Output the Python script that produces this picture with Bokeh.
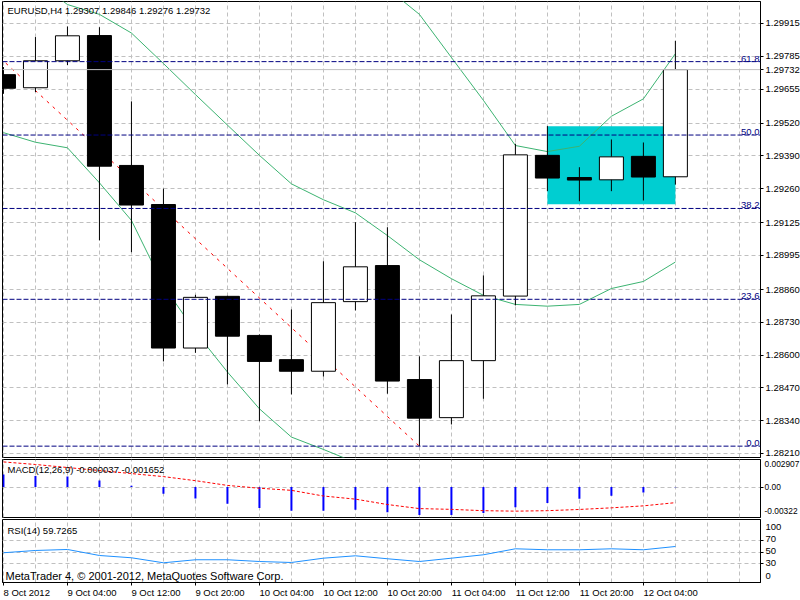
import math
from bokeh.plotting import figure
from bokeh.layouts import column
from bokeh.models import Range1d, FixedTicker, Grid, Label, Span, ColumnDataSource
from bokeh.embed import file_html
from bokeh.resources import INLINE

NaN = float("nan")

# ---------------- data ----------------
candle_idx = list(range(22))
x_tick_idx = [0, 2, 4, 6, 8, 10, 12, 14, 16, 18, 20]
x_tick_labels = ["8 Oct 2012", "9 Oct 04:00", "9 Oct 12:00", "9 Oct 20:00", "10 Oct 04:00",
                 "10 Oct 12:00", "10 Oct 20:00", "11 Oct 04:00", "11 Oct 12:00",
                 "11 Oct 20:00", "12 Oct 04:00"]

opens = [1.29712, 1.29660, 1.29767, 1.29867, 1.29352, 1.29197, 1.28628, 1.28833, 1.28678, 1.28582, 1.28536,
         1.28812, 1.28955, 1.28503, 1.28352, 1.28578, 1.28834, 1.29392, 1.29304, 1.29295, 1.29388, 1.29307]
highs = [1.29742, 1.29861, 1.29903, 1.29900, 1.29606, 1.29260, 1.28839, 1.28835, 1.28682, 1.28781, 1.28972,
         1.29127, 1.29107, 1.28595, 1.28761, 1.28916, 1.29438, 1.29508, 1.29345, 1.29455, 1.29443, 1.29846]
lows = [1.29636, 1.29643, 1.29750, 1.29055, 1.29008, 1.28575, 1.28609, 1.28484, 1.28338, 1.28444, 1.28515,
        1.28777, 1.28447, 1.28239, 1.28325, 1.28427, 1.28797, 1.29250, 1.29210, 1.29250, 1.29213, 1.29276]
closes = [1.29658, 1.29767, 1.29866, 1.29349, 1.29195, 1.28628, 1.28829, 1.28675, 1.28575, 1.28536, 1.28808,
          1.28950, 1.28497, 1.28350, 1.28578, 1.28835, 1.29394, 1.29302, 1.29294, 1.29386, 1.29306, 1.29732]

bb_upper = [NaN] * 11 + [1.30185, 1.30054, 1.29951, 1.29780, 1.29610, 1.29431, 1.29407, 1.29428,
                         1.29547, 1.29616, 1.29795]
bb_middle = [1.30185, 1.30085, 1.29990, 1.29951, 1.29877, 1.29756, 1.29633, 1.29512, 1.29392, 1.29279,
             1.29216, 1.29164, 1.29074, 1.28978, 1.28903, 1.28837, 1.28801, 1.28794, 1.28801, 1.28864,
             1.28892, 1.28969]
bb_lower = [1.29482, 1.29444, 1.29422, 1.29283, 1.29134, 1.28876, 1.28692, 1.28533, 1.28387, 1.28275,
            1.28226, 1.28174] + [NaN] * 10

price_ticks = [1.28210, 1.28340, 1.28470, 1.28600, 1.28730, 1.28860, 1.28995, 1.29125, 1.29260,
               1.29390, 1.29520, 1.29655, 1.29785, 1.29915]
last_price = 1.29732
ohlc_title = "EURUSD,H4  1.29307 1.29846 1.29276 1.29732"

fib_low, fib_high = 1.28239, 1.30706
fib_start_idx, fib_end_idx = -8, 13
fib_levels = [0.0, 23.6, 38.2, 50.0, 61.8, 100.0]
fib_labels = ["0.0", "23.6", "38.2", "50.0", "61.8", "100.0"]

rect_left, rect_right = 17, 21
rect_top, rect_bottom = 1.29507, 1.29198

macd_main = [0.00131, 0.00117, 0.00110, 0.00070, 0.00014, -0.00072, -0.00122, -0.00178, -0.00221,
             -0.00250, -0.00250, -0.00239, -0.00267, -0.00296, -0.00296, -0.00274, -0.00213, -0.00168,
             -0.00125, -0.00093, -0.00058, -0.000037]
macd_signal = [0.00265, 0.00238, 0.00206, 0.00174, 0.00142, 0.00110, 0.00067, 0.00017, -0.00013, -0.00035,
               -0.00095, -0.00128, -0.00185, -0.00228, -0.00236, -0.00250, -0.00255, -0.00250, -0.00237,
               -0.00220, -0.00199, -0.001652]
macd_title = "MACD(12,26,9) -0.000037 -0.001652"
macd_label_pos = [0.002405, 0.0, -0.00258]
macd_tick_labels = ["0.002907", "0.00", "-0.00322"]

rsi = [49.0, 52.9, 54.6, 44.3, 40.4, 31.8, 37.0, 37.0, 34.0, 32.3, 39.7, 43.8, 38.7, 34.0, 39.7, 45.5,
       55.8, 54.1, 54.1, 55.8, 54.1, 59.73]
rsi_title = "RSI(14) 59.7265"
rsi_label_pos = [93.0, 72.5, 51.5, 31.0, 10.0]
rsi_tick_labels = ["100", "70", "50", "30", "0"]
rsi_levels = [30, 50, 70]
copyright_text = "MetaTrader 4, \u00a9 2001-2012, MetaQuotes Software Corp."

# ---------------- style ----------------
FONT = "Liberation Sans"
FS_PX = 9.5
FS = f"{FS_PX}px"
GRID = "#c0c0c0"
GREEN = "#3cb371"
FRAME_W = 758
X0, X1 = -0.03, 23.66
PX = FRAME_W / (X1 - X0)  # pixels per candle step

# Arial-metric character widths (em) used to left-align the time labels at their ticks
CHAR_EM = {" ": 0.278, ":": 0.278, "O": 0.778, "c": 0.5, "t": 0.278}


def text_em(s):
    return sum(CHAR_EM.get(ch, 0.556) for ch in s)


x_range = Range1d(X0, X1)


def style_axis(ax, size=FS):
    ax.axis_line_color = "black"
    ax.major_tick_line_color = "black"
    ax.minor_tick_line_color = "black"
    ax.major_tick_out = 3
    ax.major_tick_in = 0
    ax.minor_tick_out = 3
    ax.minor_tick_in = 0
    ax.major_label_text_font = FONT
    ax.major_label_text_font_size = size
    ax.major_label_text_color = "black"
    ax.major_label_standoff = 2


def make_fig(frame_h, y_rng, top, bottom, x_axis):
    f = figure(frame_width=FRAME_W, frame_height=frame_h, x_range=x_range, y_range=y_rng,
               output_backend="svg", toolbar_location=None, title=None,
               x_axis_location="below" if x_axis else None, y_axis_location="right")
    f.min_border = 0
    f.min_border_left = 2
    f.min_border_right = 40
    f.min_border_top = top
    f.min_border_bottom = bottom
    f.xgrid.visible = False
    f.ygrid.visible = False
    f.outline_line_color = "black"
    f.outline_line_alpha = 1.0
    f.outline_line_width = 1
    f.background_fill_color = "white"
    f.border_fill_color = "white"
    f.add_layout(Grid(dimension=0, ticker=FixedTicker(ticks=list(range(0, 24))),
                      grid_line_color=GRID, grid_line_dash="4 3"))
    for ax in f.yaxis:
        style_axis(ax)
    return f


# ---------------- main price panel ----------------
p1 = make_fig(456, Range1d(1.28194, 1.30002), 1, 2, False)
p1.add_layout(Grid(dimension=1, ticker=FixedTicker(ticks=price_ticks),
                   grid_line_color=GRID, grid_line_dash="4 3"))
ya = p1.yaxis[0]
axis_prices = price_ticks + [last_price]
ya.ticker = FixedTicker(ticks=axis_prices)
ya.major_label_overrides = {t: f"{t:.5f}" for t in axis_prices}

p1.quad(left=[rect_left], right=[rect_right], top=[rect_top], bottom=[rect_bottom],
        fill_color="#00ced1", line_color=None)

p1.add_layout(Span(location=last_price, dimension="width", line_color="#c0c0c0", line_width=1))

p1.line(candle_idx, bb_upper, line_color=GREEN, line_width=1)
p1.line(candle_idx, bb_middle, line_color=GREEN, line_width=1)
p1.line(candle_idx, bb_lower, line_color=GREEN, line_width=1)

p1.line([fib_start_idx, fib_end_idx], [fib_high, fib_low], line_color="red", line_width=1,
        line_dash="3 5")

body_top = [max(o, c) for o, c in zip(opens, closes)]
body_bot = [min(o, c) for o, c in zip(opens, closes)]
body_fill = ["white" if c >= o else "black" for o, c in zip(opens, closes)]
src = ColumnDataSource(dict(x=candle_idx, h=highs, l=lows, top=body_top, bot=body_bot, fill=body_fill))
p1.segment(x0="x", y0="l", x1="x", y1="h", source=src, line_color="black", line_width=1)
p1.vbar(x="x", width=0.75, top="top", bottom="bot", fill_color="fill", line_color="black",
        line_width=1, source=src)

for lvl, lab in zip(fib_levels, fib_labels):
    price = fib_low + (fib_high - fib_low) * lvl / 100.0
    p1.add_layout(Span(location=price, dimension="width", line_color="#000080", line_width=1,
                       line_dash="5 2"))
    if price < 1.29990:
        p1.add_layout(Label(x=X1 - 1.0 / PX, y=price, text=lab, text_align="right", text_baseline="bottom",
                            text_font=FONT, text_font_size=FS, text_color="#000080"))

p1.add_layout(Label(x=X0 + 5.0 / PX, y=1.29966, text=ohlc_title, text_baseline="middle",
                    text_font=FONT, text_font_size=FS, text_color="black"))

# ---------------- MACD panel ----------------
p2 = make_fig(58, Range1d(-0.00322, 0.002907), 0, 2, False)
p2.add_layout(Grid(dimension=1, ticker=FixedTicker(ticks=[0.0]), grid_line_color=GRID,
                   grid_line_dash="4 3"))
ya2 = p2.yaxis[0]
ya2.ticker = FixedTicker(ticks=macd_label_pos, minor_ticks=[0.0])
ya2.major_label_overrides = dict(zip(macd_label_pos, macd_tick_labels))
ya2.major_tick_out = 0
ya2.major_label_standoff = 1
ya2.major_label_text_font_size = "8.4px"
p2.vbar(x=candle_idx, width=2.0 / PX, top=macd_main, bottom=0, fill_color="blue", line_color=None)
p2.line(candle_idx, macd_signal, line_color="red", line_width=1, line_dash="3 2")
p2.add_layout(Label(x=X0 + 5.0 / PX, y=0.00185, text=macd_title, text_baseline="middle",
                    text_font=FONT, text_font_size=FS, text_color="black"))

# ---------------- RSI panel ----------------
p3 = make_fig(63, Range1d(-2, 106), 0, 18, True)
p3.add_layout(Grid(dimension=1, ticker=FixedTicker(ticks=rsi_levels), grid_line_color=GRID,
                   grid_line_dash="4 3"))
ya3 = p3.yaxis[0]
ya3.ticker = FixedTicker(ticks=rsi_label_pos, minor_ticks=rsi_levels)
ya3.major_label_overrides = dict(zip(rsi_label_pos, rsi_tick_labels))
ya3.major_tick_out = 0

# time axis: minor ticks mark the candles, labels start at the tick (left aligned)
label_pos = [xi + text_em(lab) * FS_PX / 2.0 / PX for xi, lab in zip(x_tick_idx, x_tick_labels)]
xa = p3.xaxis[0]
style_axis(xa)
xa.ticker = FixedTicker(ticks=label_pos, minor_ticks=x_tick_idx)
xa.major_label_overrides = dict(zip(label_pos, x_tick_labels))
xa.major_tick_out = 0
xa.major_label_standoff = 1

p3.line(candle_idx, rsi, line_color="#1e90ff", line_width=1)
p3.add_layout(Label(x=X0 + 5.0 / PX, y=87.2, text=rsi_title, text_baseline="middle",
                    text_font=FONT, text_font_size=FS, text_color="black"))
p3.add_layout(Label(x=X0 + 3.0 / PX, y=10.0, text=copyright_text, text_baseline="middle",
                    text_font=FONT, text_font_size="11px", text_color="black"))

layout = column(p1, p2, p3, spacing=0)
open("out.html", "w").write(file_html(layout, INLINE))
